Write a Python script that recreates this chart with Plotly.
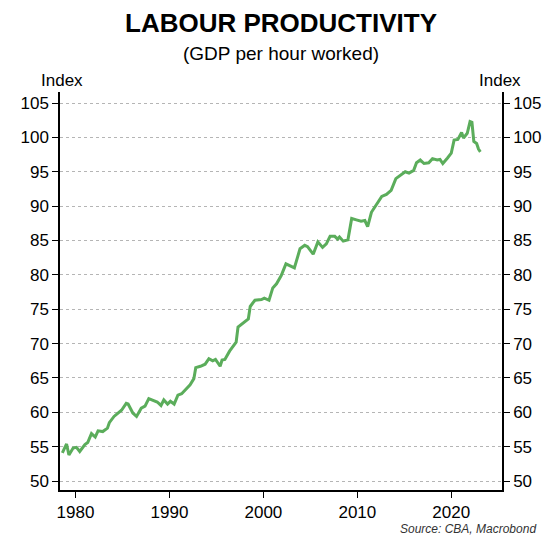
import plotly.graph_objects as go

years = [1978.6, 1979.05, 1979.3, 1979.75, 1980.1, 1980.45, 1981.0, 1981.3, 1981.7, 1982.1,
         1982.4, 1982.9, 1983.4, 1983.6, 1984.1, 1984.5, 1984.9, 1985.4, 1985.6, 1986.1,
         1986.5, 1987.0, 1987.4, 1987.8, 1988.4, 1988.7, 1989.1, 1989.4, 1989.8, 1990.1,
         1990.5, 1990.9, 1991.3, 1991.9, 1992.2, 1992.6, 1992.8, 1993.3, 1993.8, 1994.2,
         1994.6, 1994.9, 1995.4, 1995.6, 1995.9, 1996.4, 1997.1, 1997.3, 1997.8, 1998.4,
         1998.6, 1999.1, 1999.8, 2000.1, 2000.6, 2001.0, 2001.4, 2001.9, 2002.4, 2002.9,
         2003.3, 2003.9, 2004.4, 2004.7, 2005.3, 2005.8, 2006.3, 2006.7, 2007.1, 2007.6,
         2007.9, 2008.1, 2008.5, 2009.0, 2009.4, 2009.9, 2010.4, 2010.8, 2011.1, 2011.5,
         2012.0, 2012.6, 2013.1, 2013.6, 2014.1, 2014.6, 2015.1, 2015.5, 2016.0, 2016.3,
         2016.7, 2017.1, 2017.6, 2018.0, 2018.5, 2018.8, 2019.1, 2019.6, 2020.0, 2020.3,
         2020.7, 2021.1, 2021.3, 2021.7, 2022.0, 2022.2, 2022.4, 2022.7, 2022.9, 2023.1]
productivity = [54.1, 55.4, 53.8, 54.8, 54.9, 54.3, 55.3, 55.6, 56.9, 56.4,
                57.3, 57.2, 57.7, 58.5, 59.4, 59.8, 60.3, 61.3, 61.2, 59.9,
                59.4, 60.6, 60.9, 62.0, 61.6, 61.5, 61.0, 61.8, 61.2, 61.6,
                61.2, 62.5, 62.7, 63.5, 64.0, 64.9, 66.5, 66.7, 67.0, 67.8,
                67.5, 67.7, 66.7, 67.6, 67.7, 68.9, 70.2, 72.4, 72.9, 73.6,
                75.4, 76.3, 76.4, 76.6, 76.3, 78.1, 78.7, 79.9, 81.6, 81.2,
                81.0, 83.8, 84.3, 84.1, 83.0, 84.8, 84.0, 84.5, 85.6, 85.6,
                85.2, 85.5, 84.9, 85.1, 88.2, 88.0, 87.8, 87.9, 87.0, 89.1,
                90.1, 91.4, 91.7, 92.3, 94.0, 94.5, 95.0, 94.8, 95.2, 96.3,
                96.7, 96.2, 96.3, 96.9, 96.7, 96.8, 96.2, 97.0, 97.7, 99.6,
                99.7, 100.7, 99.9, 100.6, 102.3, 102.2, 99.4, 99.1, 98.3, 97.9]

y_ticks = list(range(50, 106, 5))
x_ticks = [1980, 1990, 2000, 2010, 2020]
font = "Liberation Sans, Arial, sans-serif"

fig = go.Figure()
fig.add_trace(go.Scatter(x=years, y=productivity, mode="lines",
                         line=dict(color="#5bad5b", width=3), showlegend=False))
fig.add_trace(go.Scatter(x=years, y=productivity, yaxis="y2", mode="lines",
                         line=dict(width=0), hoverinfo="skip", showlegend=False))

yaxis_common = dict(range=[48.7, 106.6], tickvals=y_ticks, ticks="outside", ticklen=6,
                    tickcolor="black", showline=True, linecolor="black", linewidth=1.5,
                    tickfont=dict(size=17, color="black"), zeroline=False)

fig.update_layout(
    width=553, height=545,
    paper_bgcolor="white", plot_bgcolor="white",
    margin=dict(l=48, r=59, t=84, b=63),
    font=dict(family=font, color="black"),
    xaxis=dict(range=[1978.35, 2025.4], tickvals=x_ticks, ticks="outside", ticklen=6,
               tickcolor="black", showline=True, linecolor="black", linewidth=1.5,
               showgrid=False, tickfont=dict(size=17, color="black"), zeroline=False),
    yaxis=dict(**yaxis_common, showgrid=True, gridcolor="#b5b5b5", griddash="dot", gridwidth=1),
    yaxis2=dict(**yaxis_common, overlaying="y", side="right", showgrid=False),
    annotations=[
        dict(text="<b>LABOUR PRODUCTIVITY</b>", x=0.5, xref="paper", y=1, yref="paper",
             yanchor="bottom", yshift=52, showarrow=False, font=dict(size=26)),
        dict(text="(GDP per hour worked)", x=0.5, xref="paper", y=1, yref="paper",
             yanchor="bottom", yshift=26, showarrow=False, font=dict(size=19)),
        dict(text="Index", x=0, xref="paper", xanchor="right", xshift=25, y=1, yref="paper",
             yanchor="bottom", yshift=0, showarrow=False, font=dict(size=17)),
        dict(text="Index", x=1, xref="paper", xanchor="left", xshift=-25, y=1, yref="paper",
             yanchor="bottom", yshift=0, showarrow=False, font=dict(size=17)),
        dict(text="<i>Source: CBA, Macrobond</i>", x=1, xref="paper", xanchor="right", xshift=36,
             y=0, yref="paper", yanchor="top", yshift=-30, showarrow=False,
             font=dict(size=12, color="#333333")),
    ],
)

fig.write_html("out.html")
